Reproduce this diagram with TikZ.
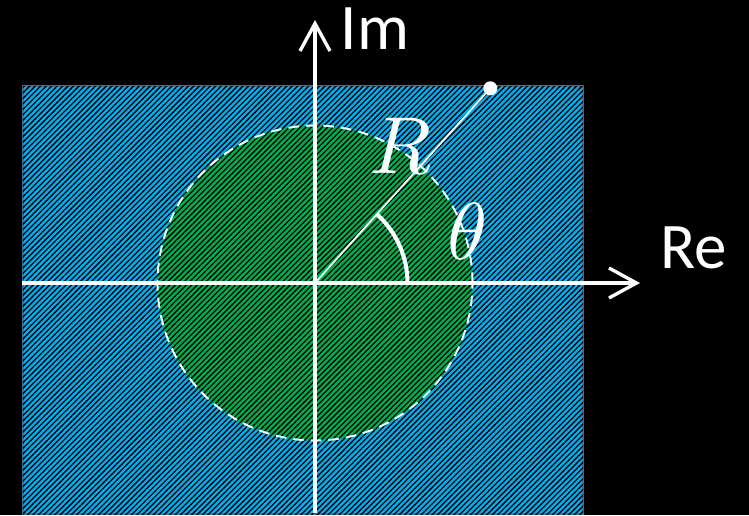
\documentclass[tikz,border=0pt]{standalone}
\usepackage{fontspec}
\usepackage{unicode-math}
\setmathfont{Latin Modern Math}
\newfontfamily\labelfont{Carlito}
\usepackage{tikz}
\usetikzlibrary{arrows.meta,patterns.meta,positioning,calc}
\definecolor{planeblue}{HTML}{00B0F0}
\definecolor{planeedge}{HTML}{41719C}
\definecolor{diskgreen}{HTML}{00B050}
\begin{document}
\begin{tikzpicture}[
    hatch/.style={pattern={Lines[angle=45,distance=2.2pt,line width=0.75pt]}, pattern color=black},
    axis/.style={draw=white, line width=1.9pt, -{Straight Barb[length=0.55cm, width=0.6cm, line width=1.9pt]}},
    ray/.style={draw=white, line width=1pt},
    arcline/.style={draw=white, line width=2.3pt},
    axlabel/.style={font=\labelfont\fontsize{37}{40}\selectfont, text=white, inner sep=0pt},
    mathlabel/.style={font=\fontsize{46}{46}\selectfont, text=white, inner sep=0pt},
]
    \fill[black] (-6.3,-4.64) rectangle (8.68,5.66);
    \useasboundingbox (-6.3,-4.64) rectangle (8.68,5.66);

    % plane and disk
    \draw[planeedge, line width=1.5pt, fill=planeblue, postaction={hatch}] (-5.84,-4.62) rectangle (5.36,3.94);
    \fill[diskgreen, postaction={hatch}] (0,0) circle[radius=3.15];
    \draw[white, line width=1.1pt, dash pattern=on 6pt off 4pt] (0,0) circle[radius=3.15];

    % axes
    \coordinate (o) at (0,0);
    \coordinate (xstart) at (-5.86,0);
    \coordinate (xend) at (6.5,0);
    \coordinate (ystart) at (0,-4.6);
    \coordinate (yend) at (0,5.26);
    \draw[axis] (xstart) -- (xend);
    \draw[axis] (ystart) -- (yend);

    \node[axlabel] (im) at (1.2,5.08) {Im};
    \node[axlabel] (re) at (7.58,0.7) {Re};

    % radius and angle
    \coordinate (tip) at (48:5.24);
    \draw[ray] (o) -- (tip);
    \fill[white] (tip) circle[radius=0.14];
    \draw[arcline] ([shift={(0:1.85)}]o) arc[start angle=0, end angle=48, radius=1.85];

    \node[mathlabel] (rlabel) at (1.72,2.72) {$R$};
    \node[mathlabel] (thlabel) at (3.04,1.04) {$\theta$};
\end{tikzpicture}
\end{document}
